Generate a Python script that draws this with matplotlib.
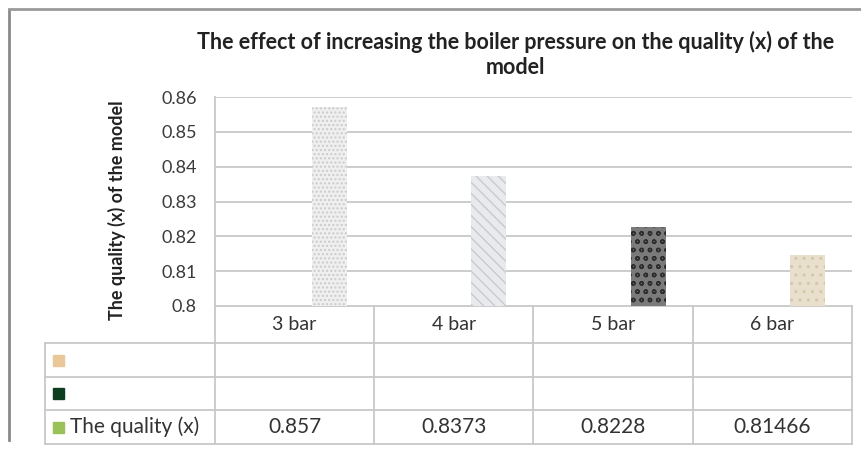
import matplotlib.pyplot as plt
import matplotlib.transforms as mtransforms
import numpy as np

# data
categories = ['3 bar', '4 bar', '5 bar', '6 bar']
quality = [0.857, 0.8373, 0.8228, 0.81466]
quality_labels = ['0.857', '0.8373', '0.8228', '0.81466']
series_names = ['', '', 'The quality (x)']
series_keys = ['#e8c79a', '#0f3d1f', '#9bc25a']
y_ticks = [0.8, 0.81, 0.82, 0.83, 0.84, 0.85, 0.86]
y_tick_labels = ['0.8', '0.81', '0.82', '0.83', '0.84', '0.85', '0.86']

# textures of the bars (face, hatch, hatch colour)
bar_faces = ['#efefef', '#e9eaed', '#7a7a7a', '#e8dfcc']
bar_hatch = ['....', '\\\\\\', 'oo', '..']
bar_hatch_col = ['#cbcbcb', '#c9cace', '#2e2e2e', '#d3c6aa']

W, H = 862, 450
plt.rcParams['font.family'] = ['Lato', 'DejaVu Sans']
fig = plt.figure(figsize=(W / 100, H / 100), dpi=100)
fig.patch.set_facecolor('white')

L, R, T, B = 215, 852, 97, 306
ax = fig.add_axes([L / W, 1 - B / H, (R - L) / W, (B - T) / H])

x = np.arange(len(categories))
bw = 0.22
for i, v in enumerate(quality):
    ax.bar(x[i] + bw, v - 0.8, bottom=0.8, width=bw, color=bar_faces[i],
           hatch=bar_hatch[i], edgecolor=bar_hatch_col[i], linewidth=0)

ax.set_xlim(-0.5, len(categories) - 0.5)
ax.set_ylim(0.8, 0.86)
ax.set_yticks(y_ticks)
ax.set_yticklabels(y_tick_labels, fontsize=13, color='#3a3a3a')
ax.tick_params(axis='y', length=0, pad=13)
ax.set_xticks([])
ax.yaxis.grid(True, color='#c8c8c8', linewidth=1.3)
ax.set_axisbelow(True)
for s in ['top', 'right', 'bottom']:
    ax.spines[s].set_visible(False)
ax.spines['left'].set_color('#c8c8c8')
ax.spines['left'].set_linewidth(1.3)

# title and y label
fig.text(516 / W, 1 - 42 / H, 'The effect of increasing the boiler pressure on the quality (x) of the',
         ha='center', va='center', fontsize=15.5, fontweight='bold', color='#222222')
fig.text(516 / W, 1 - 68 / H, 'model', ha='center', va='center', fontsize=15.5,
         fontweight='bold', color='#222222')
fig.text(117 / W, 1 - 210 / H, 'The quality (x) of the model', rotation=90, ha='center',
         va='center', fontsize=13, fontweight='bold', color='#222222')

# data table below the plot
ov = fig.add_axes([0, 0, 1, 1], zorder=-1)
ov.set_xlim(0, W)
ov.set_ylim(H, 0)
ov.axis('off')
lc = '#c8c8c8'
rows = [306, 343, 377, 410, 444]
tleft = 45
ov.plot([L, R], [rows[0], rows[0]], color=lc, lw=1.3)
for y in rows[1:]:
    ov.plot([tleft, R], [y, y], color=lc, lw=1.3)
ov.plot([tleft, tleft], [rows[1], rows[-1]], color=lc, lw=1.3)
ov.plot([L, L], [rows[0], rows[-1]], color=lc, lw=1.3)
colw = (R - L) / len(categories)
for k in range(1, len(categories) + 1):
    ov.plot([L + k * colw, L + k * colw], [rows[0], rows[-1]], color=lc, lw=1.3)

trans = mtransforms.blended_transform_factory(ax.transData, ov.transData)
for i, c in enumerate(categories):
    ov.text(x[i], (rows[0] + rows[1]) / 2, c, transform=trans, ha='center',
            va='center', fontsize=14, color='#333333')
    ov.text(x[i], (rows[3] + rows[4]) / 2, quality_labels[i], transform=trans,
            ha='center', va='center', fontsize=15, color='#333333')

for j, name in enumerate(series_names):
    yc = (rows[j + 1] + rows[j + 2]) / 2
    ov.add_patch(plt.Rectangle((53, yc - 5.5), 11, 11, color=series_keys[j]))
    if name:
        ov.text(70, yc, name, ha='left', va='center', fontsize=15, color='#333333')

# outer frame of the screenshot
ov.plot([9, 9], [10, 440], color='#8a8a8a', lw=2)
ov.plot([9, W], [9, 9], color='#9a9a9a', lw=2)

fig.savefig('out.png', dpi=100)
